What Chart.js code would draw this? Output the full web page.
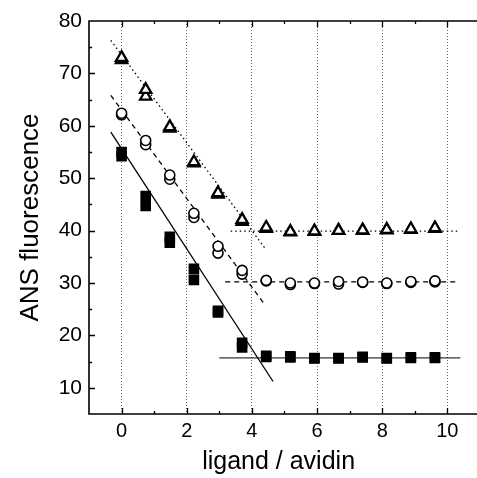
<!DOCTYPE html>
<html>
<head>
<meta charset="utf-8">
<script src="https://cdn.jsdelivr.net/npm/chart.js@4.4.0/dist/chart.umd.min.js"></script>
<style>
  html, body { margin: 0; padding: 0; background: #fff; }
</style>
</head>
<body>
<canvas id="chart" width="477" height="478"></canvas>
<script>
// ligand / avidin ratio
const ratio = [0, 0.74, 1.48, 2.22, 2.96, 3.7, 4.44, 5.18, 5.92, 6.66, 7.4, 8.14, 8.88, 9.62];

// ANS fluorescence, two runs per series
const triRun1 = [73.0, 66.9, 59.8, 53.1, 47.2, 42.1, 40.6, 39.8, 39.9, 40.0, 40.1, 40.2, 40.3, 40.5];
const triRun2 = [72.6, 65.6, 59.5, 52.9, 46.9, 41.7, 40.4, 39.7, 39.8, 40.0, 40.0, 40.1, 40.2, 40.4];
const circRun1 = [62.4, 57.2, 50.6, 43.3, 37.0, 32.4, 30.5, 30.0, 30.0, 30.3, 30.2, 30.0, 30.3, 30.4];
const circRun2 = [62.1, 56.4, 49.8, 42.5, 35.7, 31.7, 30.4, 29.7, 29.9, 29.8, 30.1, 29.9, 30.1, 30.2];
const sqRun1 = [55.0, 46.6, 38.8, 32.7, 24.7, 18.6, 16.1, 16.0, 15.7, 15.7, 15.9, 15.7, 15.8, 15.8];
const sqRun2 = [54.2, 44.7, 37.7, 30.6, 24.4, 17.7, 15.9, 15.8, 15.6, 15.6, 15.8, 15.6, 15.7, 15.7];

// fitted lines: [x0, x1], [y0, y1]
const sqFitX = [-0.33, 4.65], sqFitY = [58.8, 11.2];
const circFitX = [-0.33, 4.38], circFitY = [65.8, 26.0];
const triFitX = [-0.33, 4.44], triFitY = [76.3, 36.3];
const sqPlateauX = [3.0, 10.4], sqPlateau = 15.7;
const circPlateauX = [3.18, 10.33], circPlateau = 30.2;
const triPlateauX = [3.35, 10.33], triPlateau = 39.9;

const xTickLabels = [0, 2, 4, 6, 8, 10];
const yTickLabels = [10, 20, 30, 40, 50, 60, 70, 80];

const pts = (xs, ys) => xs.map((x, i) => ({ x: x, y: ys[i] }));
const flat = (xs, y) => xs.map(x => ({ x: x, y: y }));

const FONT = "'Liberation Sans', Arial, sans-serif";

function markers(data, style, radius, filled, bw) {
  return {
    data: data,
    showLine: false,
    pointStyle: style,
    pointRadius: radius,
    pointHoverRadius: radius,
    pointBorderWidth: bw,
    borderColor: '#000',
    backgroundColor: filled ? '#000' : '#fff',
    pointBackgroundColor: filled ? '#000' : '#fff',
    pointBorderColor: '#000'
  };
}

function fitLine(data, dash, width) {
  return {
    data: data,
    showLine: true,
    pointRadius: 0,
    borderColor: '#000',
    borderWidth: width,
    borderDash: dash,
    fill: false
  };
}

const frameTicks = {
  id: 'frameTicks',
  afterDraw(chart) {
    const { ctx, chartArea: a, scales: { x, y } } = chart;
    const w = chart.width;
    ctx.save();
    ctx.strokeStyle = '#000';
    ctx.lineWidth = 1.6;
    ctx.beginPath();
    ctx.moveTo(w, a.top);
    ctx.lineTo(a.left, a.top);
    ctx.lineTo(a.left, a.bottom);
    ctx.lineTo(w, a.bottom);
    ctx.stroke();

    ctx.lineWidth = 1.3;
    ctx.beginPath();
    for (let v = 0; v <= 10; v++) {
      const px = Math.round(x.getPixelForValue(v)) + 0.5;
      const len = v % 2 === 0 ? 6 : 3;
      ctx.moveTo(px, a.bottom); ctx.lineTo(px, a.bottom - len);
      ctx.moveTo(px, a.top); ctx.lineTo(px, a.top + len);
    }
    for (let v = 10; v <= 75; v += 5) {
      const py = Math.round(y.getPixelForValue(v)) + 0.5;
      const len = v % 10 === 0 ? 6 : 3;
      ctx.moveTo(a.left, py); ctx.lineTo(a.left + len, py);
    }
    ctx.stroke();
    ctx.restore();
  }
};

new Chart(document.getElementById('chart'), {
  type: 'scatter',
  data: {
    datasets: [
      markers(pts(ratio, triRun1), 'triangle', 6.5, false, 2.3),
      markers(pts(ratio, triRun2), 'triangle', 6.5, false, 2.3),
      markers(pts(ratio, circRun1), 'circle', 5, false, 1.6),
      markers(pts(ratio, circRun2), 'circle', 5, false, 1.6),
      markers(pts(ratio, sqRun1), 'rect', 7.5, true, 0),
      markers(pts(ratio, sqRun2), 'rect', 7.5, true, 0),
      fitLine(pts(sqFitX, sqFitY), [], 1.3),
      fitLine(pts(circFitX, circFitY), [5, 4], 1.3),
      fitLine(pts(triFitX, triFitY), [1.5, 3], 1.3),
      fitLine(flat(sqPlateauX, sqPlateau), [], 1),
      fitLine(flat(circPlateauX, circPlateau), [5, 4], 1.2),
      fitLine(flat(triPlateauX, triPlateau), [1.5, 3], 1.2)
    ]
  },
  options: {
    responsive: false,
    animation: false,
    devicePixelRatio: 1,
    layout: { padding: { top: 21, right: 0, left: 0, bottom: 0 } },
    plugins: {
      legend: { display: false },
      tooltip: { enabled: false }
    },
    scales: {
      x: {
        type: 'linear',
        min: -1,
        max: 10.64,
        afterBuildTicks: s => { s.ticks = xTickLabels.map(v => ({ value: v })); },
        afterFit: s => { s.height = 64; s.paddingLeft = 0; s.paddingRight = 0; },
        grid: { display: true, drawTicks: false, color: '#666', lineWidth: 1 },
        border: { display: false, dash: [1, 2] },
        ticks: { color: '#000', padding: 5, font: { family: FONT, size: 20 } },
        title: {
          display: true, text: 'ligand / avidin', color: '#000',
          font: { family: FONT, size: 25 }, padding: { top: 0, bottom: 1 }
        }
      },
      y: {
        type: 'linear',
        min: 5,
        max: 80,
        afterBuildTicks: s => { s.ticks = yTickLabels.map(v => ({ value: v })); },
        afterFit: s => { s.width = 89; s.paddingTop = 0; s.paddingBottom = 0; },
        grid: { display: false, drawTicks: false },
        border: { display: false },
        ticks: { color: '#000', padding: 7, font: { family: FONT, size: 21 } },
        title: {
          display: true, text: 'ANS fluorescence', color: '#000',
          font: { family: FONT, size: 26 }, padding: { top: 15, bottom: 0 }
        }
      }
    }
  },
  plugins: [frameTicks]
});
</script>
</body>
</html>
